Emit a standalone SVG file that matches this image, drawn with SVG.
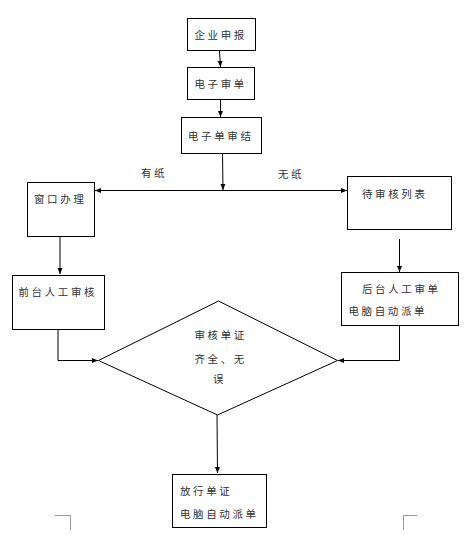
<svg xmlns="http://www.w3.org/2000/svg" width="470" height="535" viewBox="0 0 470 535">
<defs>
<marker id="ah" viewBox="0 0 6 6" refX="6" refY="3" markerWidth="6" markerHeight="6" markerUnits="userSpaceOnUse" orient="auto">
<path d="M0,0.5 L6,3 L0,5.5 Z" fill="#000"/>
</marker>
<style>
.box{fill:#fff;stroke:#000;stroke-width:1}
.t{font-family:"Noto Sans CJK SC","Liberation Sans",sans-serif;font-size:10.5px;letter-spacing:2.6px;fill:#333}
.c{fill:none;stroke:#000;stroke-width:1}
.g{fill:none;stroke:#999;stroke-width:1}
</style>
</defs>
<rect width="470" height="535" fill="#fff"/>
<g id="connectors">
<line class="c" x1="219.5" y1="51" x2="220.5" y2="67" marker-end="url(#ah)"/>
<line class="c" x1="220.5" y1="99" x2="220.5" y2="117" marker-end="url(#ah)"/>
<line class="c" x1="222.5" y1="153" x2="223" y2="190" marker-end="url(#ah)"/>
<line class="c" x1="222" y1="190.5" x2="95" y2="190.5" marker-end="url(#ah)"/>
<line class="c" x1="222" y1="190.5" x2="347" y2="190.5" marker-end="url(#ah)"/>
<line class="c" x1="60" y1="236" x2="60" y2="274" marker-end="url(#ah)"/>
<line class="c" x1="399.5" y1="239" x2="399.5" y2="272" marker-end="url(#ah)"/>
<polyline class="c" points="58,327 58,360.5 98,360.5" marker-end="url(#ah)"/>
<polyline class="c" points="399.5,325 399.5,360.5 338,360.5" marker-end="url(#ah)"/>
<line class="c" x1="217" y1="415" x2="217.5" y2="473" marker-end="url(#ah)"/>
</g>
<g id="n1"><rect class="box" x="187.5" y="18.5" width="68" height="32"/><text class="t" x="194.5" y="38.5">企业申报</text></g>
<g id="n2"><rect class="box" x="187.5" y="67.5" width="67" height="32"/><text class="t" x="194.5" y="87.5">电子审单</text></g>
<g id="n3"><rect class="box" x="181.5" y="117.5" width="80" height="36"/><text class="t" x="188" y="139.5">电子单审结</text></g>
<g id="lbl1"><text class="t" x="141" y="177">有纸</text></g>
<g id="lbl2"><text class="t" x="278" y="178">无纸</text></g>
<g id="n4"><rect class="box" x="27.5" y="182.5" width="67" height="54"/><text class="t" x="34" y="202.5">窗口办理</text></g>
<g id="n5"><rect class="box" x="347.5" y="176.5" width="104" height="53"/><text class="t" x="362" y="198">待审核列表</text></g>
<g id="n6"><rect class="box" x="12.5" y="275.5" width="92" height="54"/><text class="t" x="18.5" y="296">前台人工审核</text></g>
<g id="n7"><rect class="box" x="341.5" y="272.5" width="117" height="53"/><text class="t" x="362" y="293">后台人工审单</text><text class="t" x="348.5" y="315">电脑自动派单</text></g>
<g id="n8"><polygon class="box" points="98.5,360.5 218.5,301 337.5,360.5 217.5,415"/><text class="t" x="194.5" y="339">审核单证</text><text class="t" x="194.5" y="363">齐全、无</text><text class="t" x="213" y="383">误</text></g>
<g id="n9"><rect class="box" x="172.5" y="474.5" width="94" height="53"/><text class="t" x="180" y="495">放行单证</text><text class="t" x="180" y="518">电脑自动派单</text></g>
<g id="marks">
<polyline class="g" points="55,515.5 70.5,515.5 70.5,530"/>
<polyline class="g" points="417,515.5 403.5,515.5 403.5,530"/>
</g>
</svg>
